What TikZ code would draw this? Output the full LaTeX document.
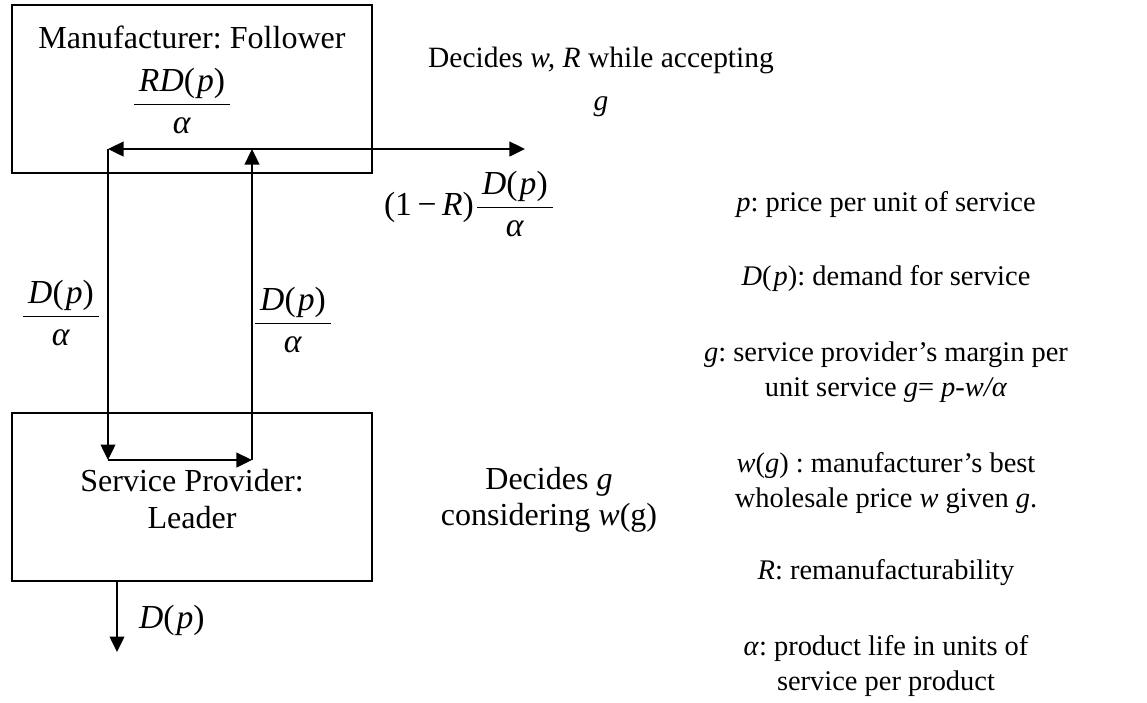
\documentclass[tikz,border=0pt]{standalone}
\usepackage{amsmath}
\usepackage{fontspec}
\setmainfont{Liberation Serif}
\usetikzlibrary{arrows.meta}
\frenchspacing
\newcommand{\flowfrac}[2]{$\dfrac{\,\mbox{#1}\,}{\mbox{#2}}$}
\newcommand{\Dp}{\textit{D}(\kern0.8pt\textit{p})}

\begin{document}
\begin{tikzpicture}[x=0.0136cm, y=-0.0136cm, every node/.style={font=\fontsize{12.4}{14}\selectfont, align=center},
    note/.style={font=\fontsize{11}{13.6}\selectfont},
    mathlab/.style={font=\fontsize{13}{15}\selectfont},
    box/.style={draw, line width=0.8pt, minimum width=4.9cm, minimum height=2.28cm},
    flow/.style={line width=1pt, -{Triangle[length=6pt, width=5.6pt]}}]
    \useasboundingbox (0,0) rectangle (1147,702);
    % the two players
    \node[box] (mfr) at (192,89) {};
    \node (mfrname) at (192,37) {Manufacturer: Follower};
    \node[mathlab] (mfrfrac) at (182,101) {\flowfrac{\textit{R}\Dp}{\textit{α}}};
    \node[box] (sp) at (192,497) {};
    \node (spname) at (192,499) {Service Provider:\\Leader};
    % flows of product
    \coordinate (tl) at (108,149);
    \coordinate (tr) at (252,149);
    \coordinate (out) at (525,149);
    \coordinate (bl) at (108,460);
    \coordinate (br) at (252,460);
    \coordinate (dtop) at (117,581);
    \coordinate (dend) at (117,652);
    \draw[flow] (tr) -- (tl);
    \draw[flow] (tr) -- (out);
    \draw[flow] (tl) -- (bl);
    \draw[flow] (bl) -- (br);
    \draw[flow] (br) -- (tr);
    \draw[flow] (dtop) -- (dend);
    \node[mathlab] (fdown) at (61,313) {\flowfrac{\Dp}{\textit{α}}};
    \node[mathlab] (fup) at (293,320) {\flowfrac{\Dp}{\textit{α}}};
    \node[mathlab] (fout) at (470,204) {(1\,−\,\textit{R})\flowfrac{\Dp}{\textit{α}}};
    \node[mathlab, anchor=west] (dem) at (130,620) {\Dp};
    % decisions
    \node[font=\fontsize{11.4}{16.5}\selectfont] (mfrdec) at (601,82) {Decides \textit{w, R} while accepting\\\textit{g}};
    \node (spdec) at (549,500) {Decides \textit{g}\\considering \textit{w}(g)};
    % notation
    \foreach \y/\lab in {205/{\textit{p}: price per unit of service},
        279/{\Dp: demand for service},
        372/{\textit{g}: service provider’s margin per\\unit service \textit{g}= \textit{p-w/α}},
        483/{\textit{w}(\textit{g}) : manufacturer’s best\\wholesale price \textit{w} given \textit{g}.},
        573/{\textit{R}: remanufacturability},
        666/{\textit{α}: product life in units of\\service per product}} {
        \node[note] (leg\y) at (886,\y) {\lab};
    }
\end{tikzpicture}
\end{document}
